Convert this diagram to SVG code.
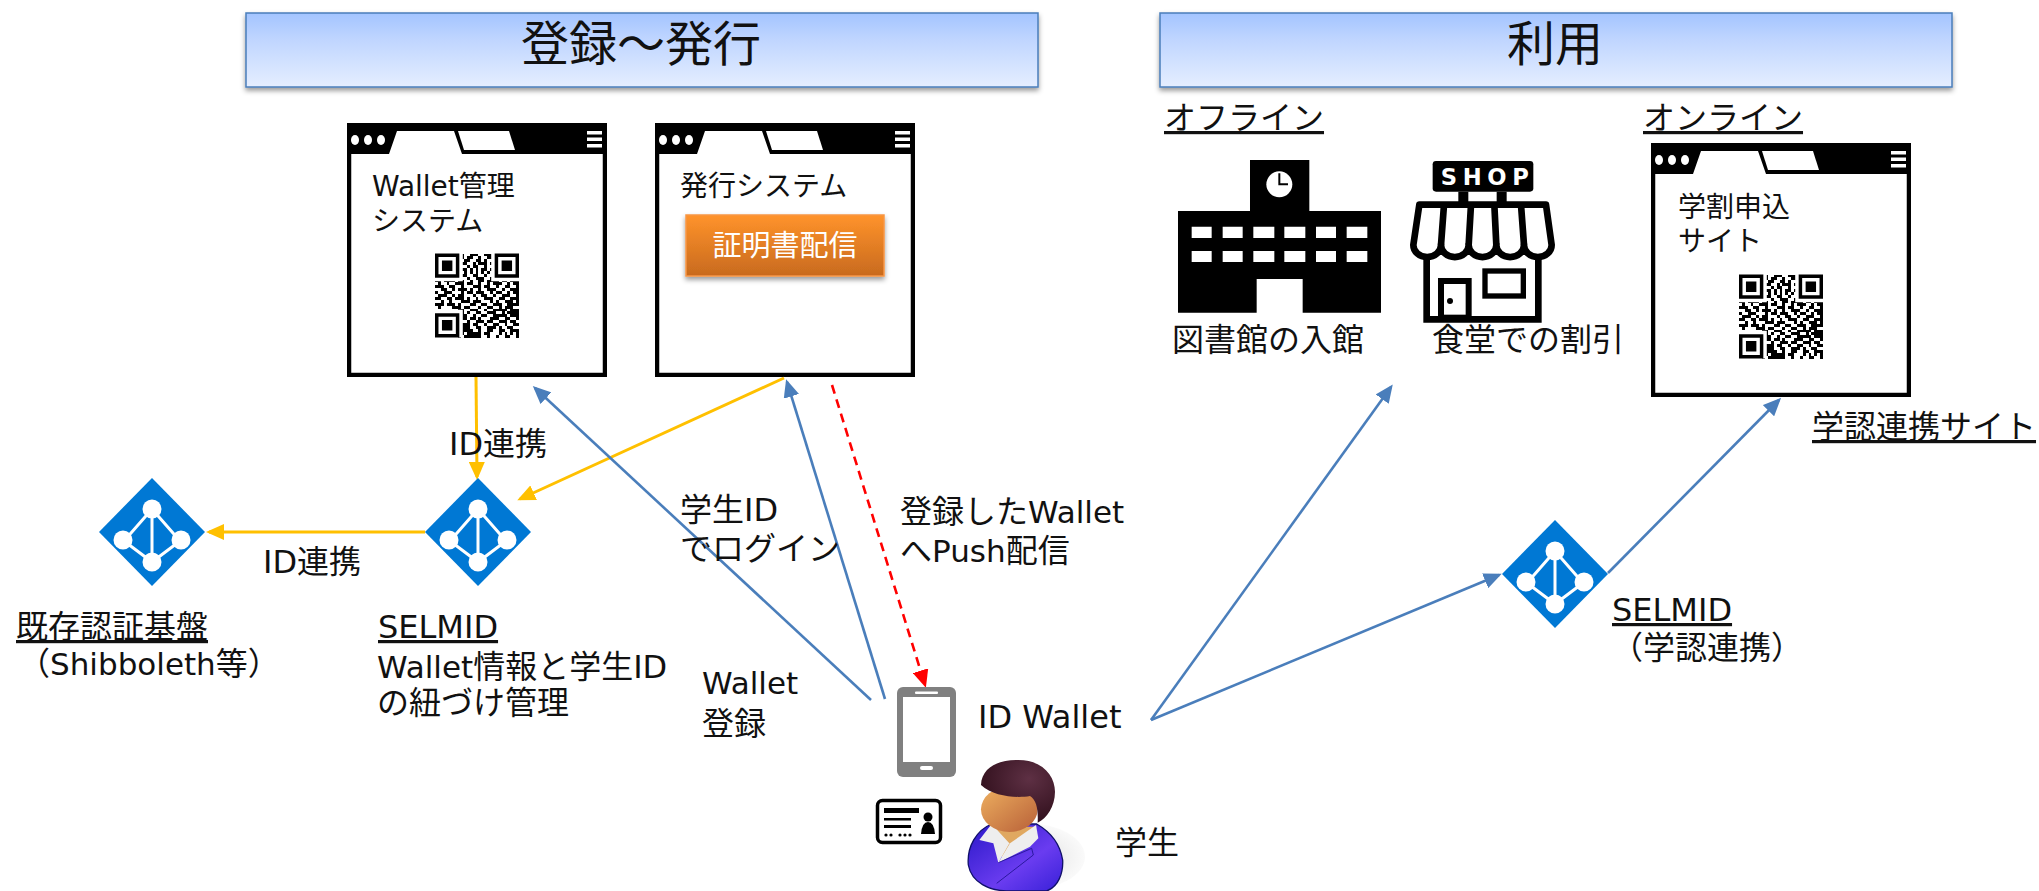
<svg xmlns="http://www.w3.org/2000/svg" width="2039" height="891" viewBox="0 0 2039 891">
<style>
text{font-family:"DejaVu Sans","Noto Sans CJK JP",sans-serif;fill:#111;font-size:32px}
.l{font-size:31px}
.u{text-decoration:underline}
.w{font-size:28px}
.h{font-size:48px;text-anchor:middle}
.bar{fill:url(#hg);stroke:#4a7ebb;stroke-width:1.5;filter:url(#sh)}
.b{stroke:#4a7ebb;stroke-width:2.6;fill:none;marker-end:url(#ab)}
.y{stroke:#ffc000;stroke-width:3;fill:none;marker-end:url(#ay)}
.r{stroke:#f00;stroke-width:2.6;fill:none;stroke-dasharray:9 6;marker-end:url(#ar)}
</style>
<defs>
<linearGradient id="hg" x1="0" y1="0" x2="0" y2="1"><stop offset="0" stop-color="#a3c4ff"/><stop offset=".35" stop-color="#bfd5ff"/><stop offset="1" stop-color="#e5eeff"/></linearGradient>
<linearGradient id="og" x1="0" y1="0" x2="0" y2="1"><stop offset="0" stop-color="#ff932b"/><stop offset="1" stop-color="#c86a1e"/></linearGradient>
<linearGradient id="bodyg" x1="0" y1="0" x2="1" y2="1"><stop offset="0" stop-color="#2a18c8"/><stop offset=".6" stop-color="#6a3cf0"/><stop offset="1" stop-color="#3820d8"/></linearGradient>
<linearGradient id="faceg" x1="0" y1="0" x2="1" y2="1"><stop offset="0" stop-color="#eeb060"/><stop offset="1" stop-color="#b86038"/></linearGradient>
<radialGradient id="hairg" cx=".65" cy=".3" r=".8"><stop offset="0" stop-color="#5e3044"/><stop offset="1" stop-color="#2c0c18"/></radialGradient>
<radialGradient id="shg" cx=".5" cy=".5" r=".5"><stop offset=".6" stop-color="#efefef"/><stop offset="1" stop-color="#fafafa"/></radialGradient>
<filter id="sh" x="-5%" y="-20%" width="110%" height="150%"><feDropShadow dx="0" dy="3" stdDeviation="2.5" flood-color="#000" flood-opacity=".4"/></filter>
<marker id="ab" viewBox="0 0 18 16" markerUnits="userSpaceOnUse" markerWidth="18" markerHeight="16" refX="15" refY="8" orient="auto"><path d="M0 0L18 8L0 16z" fill="#4a7ebb"/></marker>
<marker id="ay" viewBox="0 0 18 16" markerUnits="userSpaceOnUse" markerWidth="18" markerHeight="16" refX="15" refY="8" orient="auto"><path d="M0 0L18 8L0 16z" fill="#ffc000"/></marker>
<marker id="ar" viewBox="0 0 18 16" markerUnits="userSpaceOnUse" markerWidth="18" markerHeight="16" refX="15" refY="8" orient="auto"><path d="M0 0L18 8L0 16z" fill="#f00"/></marker>
<symbol id="win" viewBox="0 0 260 254" width="260" height="254">
<rect x="2" y="2" width="256" height="250" fill="#fff" stroke="#000" stroke-width="4.5"/>
<path d="M0 0H260V31H115L107 8H50L42 31H0z" fill="#000"/>
<path d="M111 8H162L168 27H117z" fill="#fff"/>
<g fill="#fff"><ellipse cx="8" cy="17" rx="4" ry="5"/><ellipse cx="21" cy="17" rx="4" ry="5"/><ellipse cx="34" cy="17" rx="4" ry="5"/><rect x="240" y="8" width="15" height="3.5"/><rect x="240" y="14.5" width="15" height="3.5"/><rect x="240" y="21" width="15" height="3.5"/></g>
</symbol>
<symbol id="qr" viewBox="0 0 29 29" width="84" height="85">
<path stroke="#000" stroke-width="1" fill="none" shape-rendering="crispEdges" d="M8 .5h2M12 .5h3M17 .5h3M9 1.5h1M11 1.5h2M15 1.5h1M18 1.5h2M8 2.5h1M10 2.5h2M14 2.5h2M17 2.5h1M20 2.5h1M9 3.5h2M13 3.5h1M15 3.5h3M19 3.5h2M8 4.5h1M11 4.5h1M13 4.5h2M17 4.5h1M20 4.5h1M8 5.5h3M12 5.5h1M14 5.5h1M16 5.5h2M19 5.5h1M8 6.5h1M10 6.5h1M12 6.5h1M14 6.5h1M16 6.5h1M18 6.5h1M20 6.5h1M9 7.5h2M13 7.5h2M17 7.5h1M11 8.5h1M14 8.5h3M19 8.5h2M0 9.5h2M3 9.5h3M6 9.5h1M8 9.5h2M12 9.5h1M15 9.5h2M18 9.5h4M23 9.5h2M26 9.5h3M1 10.5h1M4 10.5h1M7 10.5h3M11 10.5h2M15 10.5h1M18 10.5h1M20 10.5h3M25 10.5h1M27 10.5h2M0 11.5h3M5 11.5h2M9 11.5h1M13 11.5h3M17 11.5h2M21 11.5h1M24 11.5h2M28 11.5h1M2 12.5h2M6 12.5h1M8 12.5h3M12 12.5h1M15 12.5h1M18 12.5h3M23 12.5h1M26 12.5h3M0 13.5h1M3 13.5h3M9 13.5h1M11 13.5h2M14 13.5h3M19 13.5h1M21 13.5h2M25 13.5h1M27 13.5h2M1 14.5h3M6 14.5h1M8 14.5h2M13 14.5h1M16 14.5h2M20 14.5h1M23 14.5h3M28 14.5h1M0 15.5h2M4 15.5h2M7 15.5h3M11 15.5h1M14 15.5h1M17 15.5h3M22 15.5h2M26 15.5h3M2 16.5h1M5 16.5h1M9 16.5h3M13 16.5h3M19 16.5h1M21 16.5h1M24 16.5h3M28 16.5h1M0 17.5h3M4 17.5h3M8 17.5h1M12 17.5h2M16 17.5h2M20 17.5h3M25 17.5h4M1 18.5h1M6 18.5h3M10 18.5h2M15 18.5h1M18 18.5h2M22 18.5h1M24 18.5h3M8 19.5h2M12 19.5h3M17 19.5h1M20 19.5h5M26 19.5h3M9 20.5h1M11 20.5h1M14 20.5h2M18 20.5h3M23 20.5h1M25 20.5h4M8 21.5h3M13 21.5h1M16 21.5h2M20 21.5h5M26 21.5h3M9 22.5h2M12 22.5h2M15 22.5h1M19 22.5h3M24 22.5h2M28 22.5h1M8 23.5h1M11 23.5h1M14 23.5h3M18 23.5h2M22 23.5h3M26 23.5h2M8 24.5h4M13 24.5h2M17 24.5h1M20 24.5h2M24 24.5h1M27 24.5h2M9 25.5h3M14 25.5h2M18 25.5h3M22 25.5h1M25 25.5h2M8 26.5h5M15 26.5h1M18 26.5h2M22 26.5h2M26 26.5h3M8 27.5h2M11 27.5h5M17 27.5h2M22 27.5h1M24 27.5h1M26 27.5h1M28 27.5h1M8 28.5h1M10 28.5h6M18 28.5h1M21 28.5h1M24 28.5h2M28 28.5h1"/>
<path fill="#fff" d="M0 0h9.600v9.600H0zM19.400 0H29v9.600h-9.600zM0 19.400h9.600V29H0z"/>
<path fill-rule="evenodd" d="M0 0h8.400v8.400H0zM1.200 1.200v6h6v-6zM2.400 2.400h3.600v3.600H2.400zM20.600 0H29v8.400h-8.400zM21.800 1.200v6h6v-6zM23 2.400h3.600v3.600H23zM0 20.600h8.400V29H0zM1.200 21.800v6h6v-6zM2.400 23h3.600v3.600H2.400z"/>
</symbol>
<symbol id="dia" viewBox="-53 -54 106 108" width="106" height="108" overflow="visible">
<path d="M0-54L53 0L0 54L-53 0z" fill="#0078d4"/>
<path d="M0-23L-28 9L0 30L28 9zM0-23V30" fill="none" stroke="#fff" stroke-width="3"/>
<g fill="#fff"><circle cx="0" cy="-23" r="9.5"/><circle cx="-29" cy="8" r="9.5"/><circle cx="29" cy="8" r="9.5"/><circle cx="0" cy="30" r="9.5"/></g>
</symbol>
</defs>
<rect width="2039" height="891" fill="#fff"/>
<g id="header-register"><rect class="bar" x="246" y="13" width="792" height="74"/><text class="h" x="641" y="61">登録〜発行</text></g>
<g id="header-use"><rect class="bar" x="1160" y="13" width="792" height="74"/><text class="h" x="1555" y="61">利用</text></g>
<g id="wallet-system"><use href="#win" x="347" y="123"/><use href="#qr" x="435" y="253"/><text class="w" x="372" y="196">Wallet管理</text><text class="w" x="372" y="231">システム</text></g>
<g id="issue-system"><use href="#win" x="655" y="123"/><text class="w" x="680" y="196">発行システム</text>
<rect x="686" y="215" width="198" height="61" fill="url(#og)" stroke="#f79646" stroke-width="1.5" filter="url(#sh)"/><text x="785" y="256" style="fill:#fff;font-size:29px;text-anchor:middle">証明書配信</text></g>
<g id="application-site"><use href="#win" x="1651" y="143"/><use href="#qr" x="1739" y="274"/><text class="w" x="1678" y="217">学割申込</text><text class="w" x="1678" y="251">サイト</text></g>
<g id="connectors">
<path class="y" d="M476 377L477 477"/>
<path class="y" d="M784 378L520 499"/>
<path class="y" d="M425 532L209 532"/>
<path class="b" d="M871 700L535 388"/>
<path class="b" d="M885 699L787 382"/>
<path class="r" d="M832 385L925 685"/>
<path class="b" d="M1151 720L1391 387"/>
<path class="b" d="M1151 720L1499 575"/>
<path class="b" d="M1608 573L1779 400"/>
</g>
<g id="idp"><use href="#dia" x="99" y="478"/><text class="u" x="16" y="638">既存認証基盤</text><text x="18" y="675">（<tspan class="l">Shibboleth</tspan>等）</text></g>
<g id="selmid"><use href="#dia" x="425" y="478"/><text class="u" x="378" y="638">SELMID</text><text x="377" y="678"><tspan class="l">Wallet</tspan>情報と学生ID</text><text x="377" y="714">の紐づけ管理</text></g>
<g id="selmid-academic"><use href="#dia" x="1502" y="520"/><text class="u" x="1612" y="621">SELMID</text><text x="1611" y="659">（学認連携）</text></g>
<g id="labels">
<text x="449" y="455">ID連携</text>
<text x="263" y="573">ID連携</text>
<text x="680" y="521">学生ID</text>
<text x="680" y="560">でログイン</text>
<text x="900" y="523">登録した<tspan class="l">Wallet</tspan></text>
<text x="900" y="562">へ<tspan class="l">Push</tspan>配信</text>
<text x="702" y="694" class="l">Wallet</text>
<text x="702" y="735">登録</text>
<text class="u" x="1164" y="129">オフライン</text>
<text class="u" x="1643" y="129">オンライン</text>
<text x="1172" y="351">図書館の入館</text>
<text x="1432" y="351">食堂での割引</text>
<text class="u" x="1812" y="438">学認連携サイト</text>
</g>
<g id="id-wallet"><rect x="897" y="687" width="59" height="90" rx="6" fill="#808080"/><rect x="903" y="697" width="47" height="65" fill="#fff"/><rect x="915" y="691.500" width="23" height="2.500" rx="1" fill="#fff"/><rect x="920" y="766" width="13" height="4" rx="2" fill="#fff"/><text x="978" y="728">ID Wallet</text></g>
<g id="card"><rect x="877.500" y="800.500" width="63" height="42" rx="5" fill="#fff" stroke="#000" stroke-width="3.500"/><path d="M884 808h35v5h-35zM884 818h27v2.500h-27zM884 825h27v3h-27z"/><g><circle cx="886" cy="835" r="1.600"/><circle cx="891" cy="835" r="1.600"/><circle cx="900" cy="835" r="1.600"/><circle cx="905" cy="835" r="1.600"/><circle cx="910" cy="835" r="1.600"/><circle cx="928" cy="817" r="4.500"/><path d="M921 834Q922 822 928 822Q934 822 935 834z"/></g></g>
<g id="student">
<g transform="translate(850 670) scale(.33333)">
<ellipse cx="530" cy="560" rx="175" ry="100" fill="url(#shg)"/>
<path d="M425 462C380 480 350 530 355 585C365 640 420 661 470 663H590C625 650 640 610 638 570C630 520 600 485 560 462z" fill="url(#bodyg)" stroke="#10106a" stroke-width="4"/>
<path d="M425 470H560L460 570z" fill="#e0a860"/>
<path d="M425 462L388 510L430 520L445 578L478 520z" fill="#eee"/>
<path d="M558 465L565 505L540 530L445 578L480 520z" fill="#eee"/>
<path d="M445 578L545 535L550 555L440 640" fill="none" stroke="#2a18a0" stroke-width="3"/>
<ellipse cx="478" cy="418" rx="85" ry="68" fill="url(#faceg)"/>
<path d="M393 345C395 290 450 268 505 270C580 270 615 320 615 365C615 410 590 445 563 458C565 420 560 390 540 378C500 385 430 380 393 345z" fill="url(#hairg)"/>
</g>
<text x="1115" y="854">学生</text></g>
<g id="library"><g transform="translate(1150 90) scale(.33333)">
<path d="M300 210H478V363H693V668H458V567H320V668H84V363H300z"/>
<g fill="#fff"><circle cx="388" cy="283" r="39"/><path d="M125 410h60v34h-60zM218 410h60v34h-60zM310 410h63v34h-63zM403 410h63v34h-63zM498 410h60v34h-60zM590 410h62v34h-62zM125 483h60v33h-60zM218 483h60v33h-60zM310 483h63v33h-63zM403 483h63v33h-63zM498 483h60v33h-60zM590 483h62v33h-62z"/></g>
<path d="M388 250V283H414" fill="none" stroke="#000" stroke-width="6"/>
</g></g>
<g id="shop"><g transform="translate(1150 90) scale(.33333)">
<rect x="848" y="213" width="302" height="92" rx="10"/>
<path d="M925 305h30v35h-30zM1040 305h30v35h-30z"/>
<path d="M830 500V688H1165V500" fill="#fff" stroke="#000" stroke-width="20"/>
<path d="M808 344H1188L1205 465A41 36 0 0 1 1122 465A41 36 0 0 1 1039 465A41 36 0 0 1 956 465A41 36 0 0 1 873 465A41 36 0 0 1 790 465z" fill="#fff" stroke="#000" stroke-width="20" stroke-linejoin="round"/>
<path d="M882 344L873 465M963 344L956 465M1033 344L1039 465M1113 344L1122 465" fill="none" stroke="#000" stroke-width="20"/>
<rect x="873" y="573" width="83" height="110" fill="#fff" stroke="#000" stroke-width="18"/>
<rect x="1005" y="543" width="115" height="75" fill="#fff" stroke="#000" stroke-width="16"/>
<circle cx="900" cy="633" r="9"/>
<text x="872" y="285" style="fill:#fff;font-size:68px;font-weight:bold;letter-spacing:17px">SHOP</text>
</g></g>
</svg>
